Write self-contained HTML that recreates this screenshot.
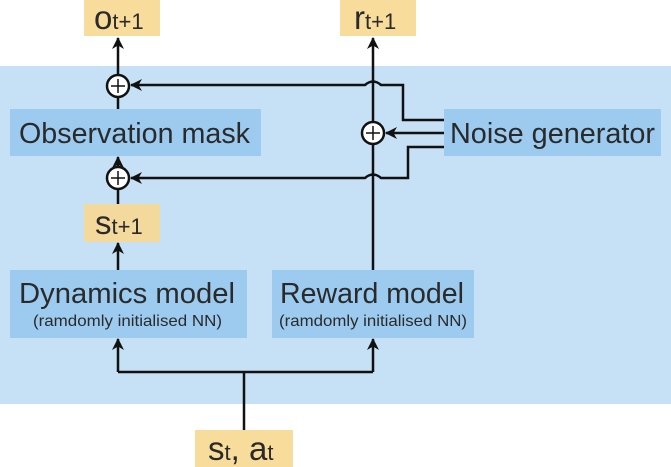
<!DOCTYPE html>
<html><head><meta charset="utf-8"><style>
html,body{margin:0;padding:0;background:#fff}
svg{display:block}
text{font-family:"Liberation Sans",sans-serif;fill:#2a2a2a}
</style></head><body>
<svg width="671" height="467" viewBox="0 0 671 467" xmlns="http://www.w3.org/2000/svg">
<defs><marker id="a" markerWidth="12" markerHeight="12" refX="11" refY="6" orient="auto" markerUnits="userSpaceOnUse"><path d="M0,0 L12,6 L0,12 L3.5,6 Z" fill="#111"/></marker></defs>
<rect x="0" y="66" width="671" height="338" fill="#c6e1f6"/>
<rect x="84" y="0" width="76" height="36" fill="#f8dc9c"/>
<rect x="340" y="0" width="76" height="36" fill="#f8dc9c"/>
<rect x="84" y="204" width="76" height="38" fill="#f3d99c"/>
<rect x="195" y="430" width="98" height="37" fill="#f8dc9c"/>
<rect x="10" y="109" width="251" height="47" fill="#9ccbef"/>
<rect x="444" y="109" width="217" height="47" fill="#9ccbef"/>
<rect x="10" y="270" width="237" height="68" fill="#9ccbef"/>
<rect x="272" y="270" width="202" height="68" fill="#9ccbef"/>
<g stroke="#111" stroke-width="2.5" fill="none">
<line x1="118" y1="75" x2="118" y2="38" marker-end="url(#a)"/>
<line x1="118" y1="109" x2="118" y2="96"/>
<line x1="118" y1="167" x2="118" y2="157" marker-end="url(#a)"/>
<line x1="118" y1="204" x2="118" y2="189"/>
<line x1="118" y1="270" x2="118" y2="243" marker-end="url(#a)"/>
<line x1="373" y1="270" x2="373" y2="38" marker-end="url(#a)"/>
<path d="M444,120 H403 V85 H381 Q373,78 365,85 H131" marker-end="url(#a)"/>
<path d="M444,133 H386" marker-end="url(#a)"/>
<path d="M444,147 H408 V178 H381 Q373,171 365,178 H131" marker-end="url(#a)"/>
<path d="M244,430 V372"/>
<path d="M118,372 H373"/>
<line x1="118" y1="372" x2="118" y2="339" marker-end="url(#a)"/>
<line x1="373" y1="372" x2="373" y2="339" marker-end="url(#a)"/>
</g>
<g stroke="#111" stroke-width="2.5" fill="#fff">
<ellipse cx="118" cy="86" rx="11" ry="11"/>
<ellipse cx="118" cy="178" rx="11" ry="11"/>
<ellipse cx="373" cy="133" rx="11" ry="11"/>
</g>
<g stroke="#111" stroke-width="1.5">
<path d="M111,86 H125 M118,79 V93"/>
<path d="M111,178 H125 M118,171 V185"/>
<path d="M366,133 H380 M373,126 V140"/>
</g>
<text x="19" y="143" font-size="29" textLength="231" lengthAdjust="spacingAndGlyphs">Observation mask</text>
<text x="450" y="143" font-size="29" textLength="205" lengthAdjust="spacingAndGlyphs">Noise generator</text>
<text x="19" y="303" font-size="29" textLength="216" lengthAdjust="spacingAndGlyphs">Dynamics model</text>
<text x="33" y="326" font-size="16" textLength="189" lengthAdjust="spacingAndGlyphs">(ramdomly initialised NN)</text>
<text x="280" y="303" font-size="29" textLength="184" lengthAdjust="spacingAndGlyphs">Reward model</text>
<text x="279" y="326" font-size="16" textLength="188" lengthAdjust="spacingAndGlyphs">(ramdomly initialised NN)</text>
<text x="94" y="29" font-size="33">o<tspan font-size="22">t+1</tspan></text>
<text x="354" y="29" font-size="33">r<tspan font-size="22">t+1</tspan></text>
<text x="95" y="234" font-size="33">s<tspan font-size="22">t+1</tspan></text>
<text x="208" y="460" font-size="33">s<tspan font-size="22">t</tspan>, a<tspan font-size="22">t</tspan></text>
</svg>
</body></html>
